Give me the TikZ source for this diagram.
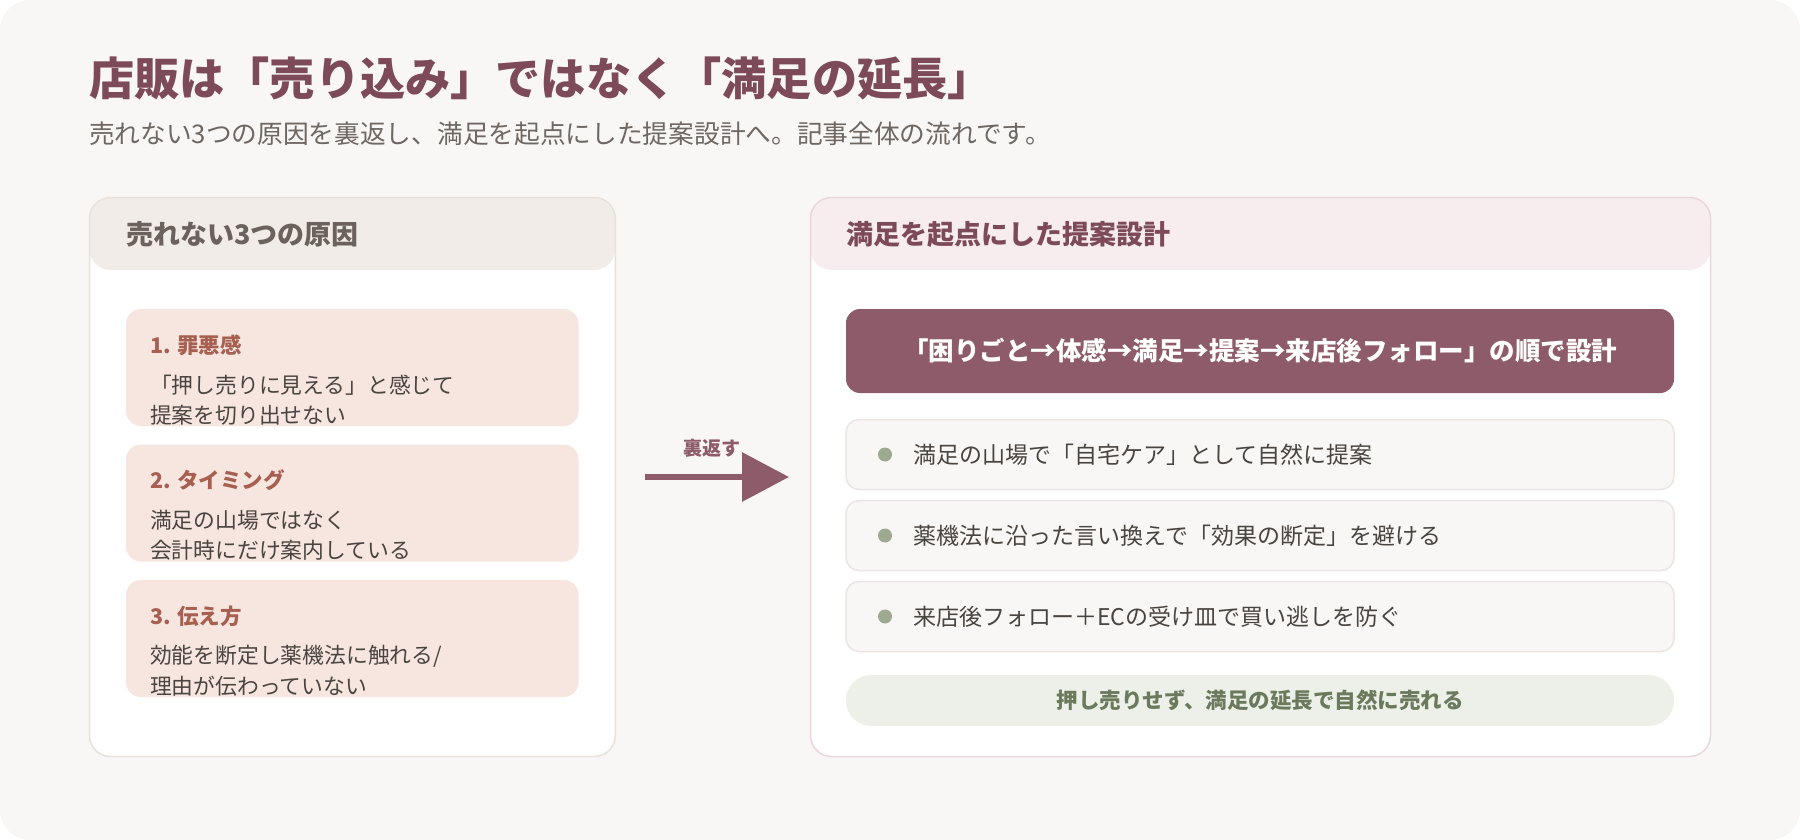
\documentclass[tikz,border=0pt]{standalone}
\usepackage{fontspec}
\setmainfont{Noto Sans CJK JP}
\usetikzlibrary{arrows.meta}
\definecolor{pagebg}{HTML}{F8F7F5}
\definecolor{titlec}{HTML}{7D4A5A}
\definecolor{subc}{HTML}{6E6763}
\definecolor{lhdrfill}{HTML}{F2ECE8}
\definecolor{lborder}{HTML}{E8E1DC}
\definecolor{lhdrtext}{HTML}{6B625D}
\definecolor{causefill}{HTML}{F7E6DF}
\definecolor{causetitle}{HTML}{A65F50}
\definecolor{bodytext}{HTML}{4A4440}
\definecolor{accent}{HTML}{8D5B69}
\definecolor{rhdrfill}{HTML}{F7ECEE}
\definecolor{rborder}{HTML}{EAD6DC}
\definecolor{rhdrtext}{HTML}{7D4A5A}
\definecolor{itemfill}{HTML}{F8F7F5}
\definecolor{itemborder}{HTML}{ECE6E2}
\definecolor{dotc}{HTML}{9DAA8F}
\definecolor{pillfill}{HTML}{EDF0E8}
\definecolor{pilltext}{HTML}{6B7A5C}
\tikzset{
  txt/.style={anchor=west, inner sep=0pt, outer sep=0pt},
  panelbox/.style={rectangle, line width=1.5pt, fill=white, rounded corners=21pt,
    minimum height=559pt, inner sep=0pt, outer sep=0pt},
  hdrtext/.style={txt, font=\fontsize{27}{32}\selectfont\bfseries},
  causebox/.style={rectangle, fill=causefill, rounded corners=15pt,
    minimum width=452.6pt, minimum height=117pt, inner sep=0pt, outer sep=0pt},
  causehead/.style={txt, text=causetitle, font=\fontsize{21.5}{26}\selectfont\bfseries},
  causebody/.style={txt, text=bodytext, font=\fontsize{21.8}{26}\selectfont},
  itembox/.style={rectangle, draw=itemborder, line width=1.5pt, fill=itemfill,
    rounded corners=13pt, minimum width=828pt, minimum height=70pt, inner sep=0pt, outer sep=0pt},
  dotmark/.style={circle, fill=dotc, minimum size=14pt, inner sep=0pt},
  itemtext/.style={txt, text=bodytext, font=\fontsize{23}{28}\selectfont},
}
\begin{document}
\begin{tikzpicture}[x=1pt,y=-1pt]
\useasboundingbox (0,0) rectangle (1800,840);
\fill[pagebg, rounded corners=30pt] (0,0) rectangle (1800,840);

% title and subtitle
\node[txt, text=titlec, font=\fontsize{45.2}{50}\selectfont\bfseries] (title) at (89,78) {店販は「売り込み」ではなく「満足の延長」};
\node[txt, text=subc, font=\fontsize{25.7}{30}\selectfont] (subtitle) at (89,134) {売れない3つの原因を裏返し、満足を起点にした提案設計へ。記事全体の流れです。};

% left panel
\node[panelbox, draw=lborder, minimum width=525.8pt,
  path picture={\fill[lhdrfill] (path picture bounding box.north west) rectangle ([yshift=-72.5pt]path picture bounding box.north east);}]
  (leftpanel) at (352.4,477) {};
\node[hdrtext, text=lhdrtext] (lefthead) at (126,234) {売れない3つの原因};

\node[causebox] (cause1) at (352.3,367.5) {};
\node[causehead] (c1t) at (150,345) {1. 罪悪感};
\node[causebody] (c1a) at (150,385) {「押し売りに見える」と感じて};
\node[causebody] (c1b) at (150,415) {提案を切り出せない};

\node[causebox] (cause2) at (352.3,503) {};
\node[causehead] (c2t) at (150,480.5) {2. タイミング};
\node[causebody] (c2a) at (150,520.5) {満足の山場ではなく};
\node[causebody] (c2b) at (150,550.5) {会計時にだけ案内している};

\node[causebox] (cause3) at (352.3,638.5) {};
\node[causehead] (c3t) at (150,616) {3. 伝え方};
\node[causebody] (c3a) at (150,656) {効能を断定し薬機法に触れる/};
\node[causebody] (c3b) at (150,686) {理由が伝わっていない};

% arrow
\coordinate (arrS) at (645,477);
\coordinate (arrE) at (789,477);
\draw[accent, line width=6.5pt, -{Triangle[length=47pt,width=48pt]}] (arrS) -- (arrE);
\node[text=accent, font=\fontsize{19}{22}\selectfont\bfseries, inner sep=0pt] (fliplabel) at (711.5,448) {裏返す};

% right panel
\node[panelbox, draw=rborder, minimum width=900pt,
  path picture={\fill[rhdrfill] (path picture bounding box.north west) rectangle ([yshift=-72.5pt]path picture bounding box.north east);}]
  (rightpanel) at (1260.5,477) {};
\node[hdrtext, text=rhdrtext] (righthead) at (846,234) {満足を起点にした提案設計};

\node[rectangle, fill=accent, rounded corners=14pt, minimum width=828pt, minimum height=84pt,
  text=white, font=\fontsize{25.5}{30}\selectfont\bfseries, inner sep=0pt] (banner) at (1260,351)
  {「困りごと→体感→満足→提案→来店後フォロー」の順で設計};

\node[itembox] (item1) at (1260,454.5) {};
\node[dotmark] (dot1) at (885,454.5) {};
\node[itemtext] (t1) at (913,454.5) {満足の山場で「自宅ケア」として自然に提案};

\node[itembox] (item2) at (1260,535.5) {};
\node[dotmark] (dot2) at (885,535.5) {};
\node[itemtext] (t2) at (913,535.5) {薬機法に沿った言い換えで「効果の断定」を避ける};

\node[itembox] (item3) at (1260,616.5) {};
\node[dotmark] (dot3) at (885,616.5) {};
\node[itemtext] (t3) at (913,616.5) {来店後フォロー＋ECの受け皿で買い逃しを防ぐ};

\node[rectangle, fill=pillfill, rounded corners=25pt, minimum width=828pt, minimum height=51pt,
  text=pilltext, font=\fontsize{21.5}{26}\selectfont\bfseries, inner sep=0pt] (pill) at (1260,700.5)
  {押し売りせず、満足の延長で自然に売れる};
\end{tikzpicture}
\end{document}
